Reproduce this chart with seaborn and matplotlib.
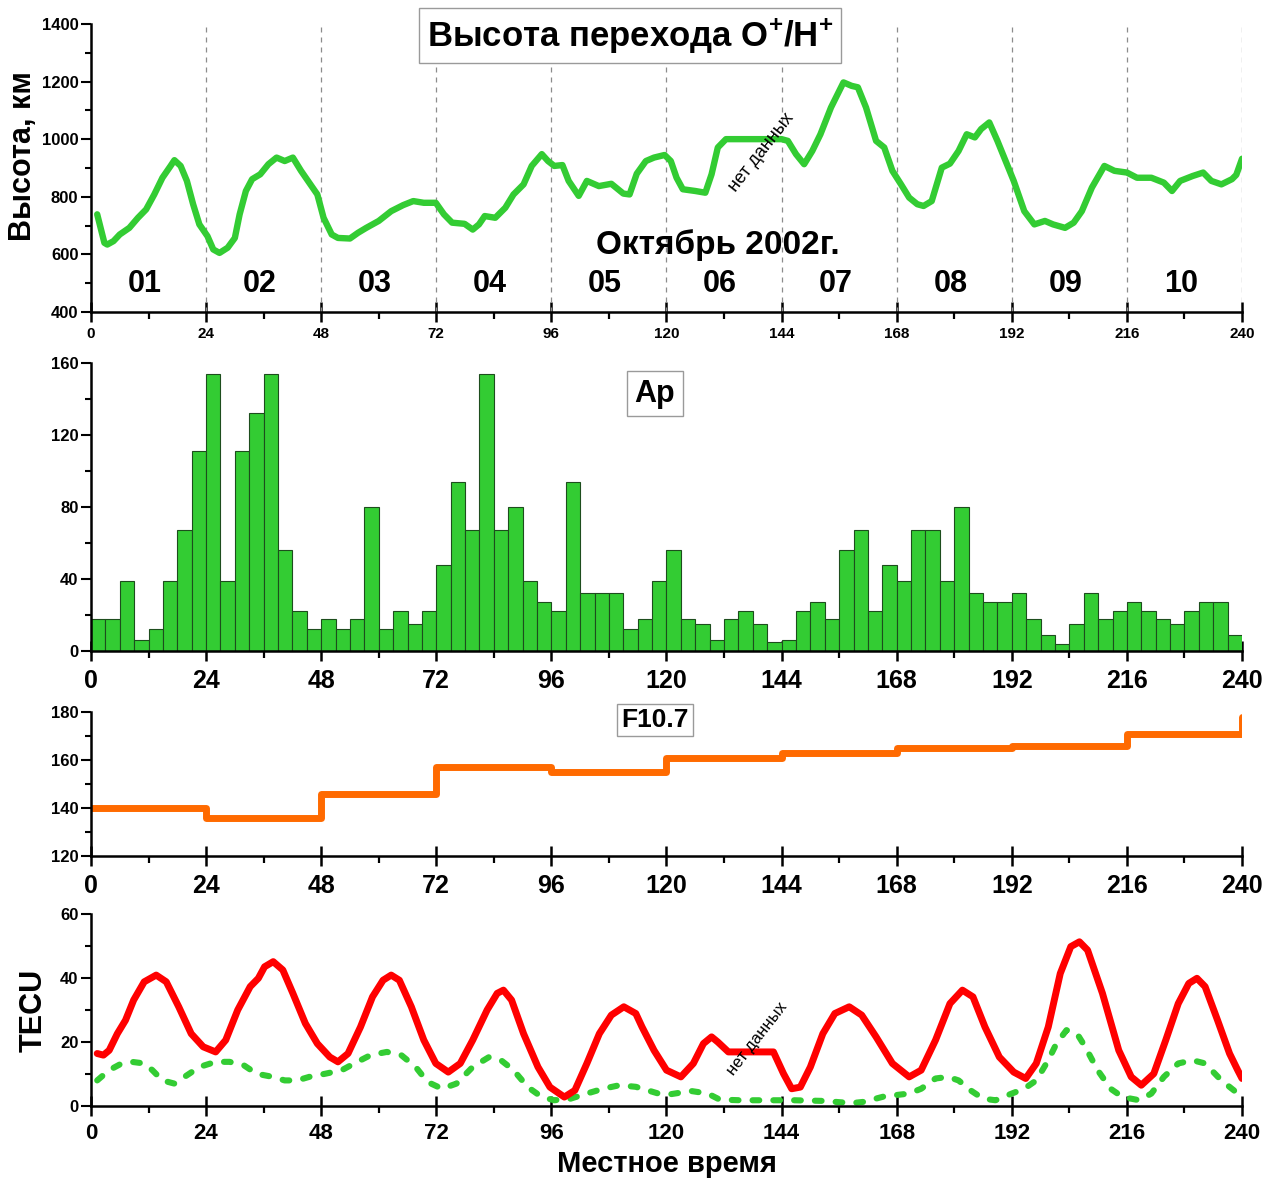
import numpy as np
import pandas as pd
import matplotlib
matplotlib.use("Agg")
import matplotlib.pyplot as plt
import seaborn as sns
from matplotlib.ticker import MultipleLocator

# ---------------- data ----------------
# O+/H+ transition height (km) vs local time (hours from 1 Oct 2002)
alt_hours = [1.3, 2.8, 3.4, 4.7, 6, 8, 9.8, 11.5, 13.2, 14.9, 16.6, 17.4, 18.7, 20, 21.3, 22.6,
             24.3, 25.5, 26.8, 28.5, 30, 31, 32.3, 33.6, 35.3, 37, 38.7, 40.4, 42.1, 43.8, 45.5, 47.2,
             48.5, 50.2, 51.5, 54, 55.7, 57.4, 60, 62.6, 65.1, 67.2, 69.4, 71.9,
             73.6, 75.3, 77.9, 79.6, 80.9, 82.1, 84.3, 86.4, 88.1, 90.2, 91.9, 94, 95.3,
             96.6, 98.3, 99.6, 101.7, 103.4, 105.9, 108.5, 111, 112.3, 113.8, 115.7, 117.4, 119.6,
             120.9, 122.1, 123.4, 126, 128.1, 129.4, 130.7, 132.4, 144,
             145.3, 147, 148.7, 150.4, 152.1, 154.3, 156.9, 158.6, 159.9, 161.6, 163.7, 165.4, 167.1,
             168.9, 170.6, 172.3, 173.6, 175.3, 177.4, 179.1, 180.9, 182.6, 184.3, 185.6, 187.3, 189, 190.7,
             192.4, 194.6, 196.7, 198.9, 200.6, 203.1, 204.9, 206.6, 208.7, 211.3, 213.4,
             216, 218.1, 221.1, 223.7, 225.4, 227.1, 229.7, 231.9, 233.6, 235.7, 237.9, 238.8, 240]
alt_km = [739, 640, 634, 646, 669, 692, 727, 756, 808, 866, 907, 927, 907, 855, 774, 704,
          663, 617, 605, 623, 657, 739, 820, 861, 878, 913, 936, 924, 936, 890, 849, 808,
          727, 669, 657, 655, 675, 692, 716, 750, 771, 785, 779, 779,
          739, 710, 706, 686, 704, 733, 727, 762, 808, 843, 907, 948, 924,
          907, 910, 855, 803, 855, 837, 845, 811, 808, 880, 924, 936, 945,
          924, 866, 826, 820, 814, 878, 971, 1000, 1000,
          994, 948, 913, 959, 1017, 1110, 1197, 1185, 1180, 1110, 994, 971, 890,
          843, 797, 774, 768, 785, 901, 915, 959, 1017, 1006, 1035, 1058, 994, 924,
          855, 750, 704, 716, 704, 692, 710, 750, 832, 907, 890,
          884, 866, 866, 849, 820, 855, 872, 884, 855, 843, 861, 876, 932]

# Ap index, 3-hour values
ap_hours = list(range(0, 240, 3))
ap_values = [18, 18, 39, 6, 12, 39, 67, 111, 154, 39, 111, 132, 154, 56, 22, 12,
             18, 12, 18, 80, 12, 22, 15, 22, 48, 94, 67, 154, 67, 80, 39, 27,
             22, 94, 32, 32, 32, 12, 18, 39, 56, 18, 15, 6, 18, 22, 15, 5,
             6, 22, 27, 18, 56, 67, 22, 48, 39, 67, 67, 39, 80, 32, 27, 27,
             32, 18, 9, 4, 15, 32, 18, 22, 27, 22, 18, 15, 22, 27, 27, 9]

# F10.7 daily values (step)
f107_hours = [0, 24, 48, 72, 96, 120, 144, 168, 192, 216, 240]
f107_values = [140, 136, 146, 157, 155, 161, 163, 165, 166, 171, 178]

# TEC (red solid)
tec_hours = [1.3, 2.6, 3.8, 5.5, 7.2, 8.9, 11.1, 13.6, 15.7, 18.3, 20.9, 23.4, 26, 28.1, 30.6, 33.2,
             34.9, 36.2, 38, 40, 42.1, 44.7, 47.2, 49.8, 51.5, 53.6, 56.2, 58.7, 60.9, 62.6, 64.3, 66.8,
             69.4, 71.9, 74.5, 77, 79.6, 82.6, 84.7, 86, 87.7, 90.2, 93.2, 95.7, 98.7, 100.9, 103.4,
             106, 108.5, 111.1, 113.6, 114.9, 117.4, 120, 123, 125.6, 127.7, 129.4, 130.7, 132.9, 142.3,
             144.4, 146.1, 147.9, 150, 152.6, 155.1, 158.1, 160.7, 163.7, 167.1, 170.6, 173.1, 176.1,
             179.1, 181.7, 183.9, 186.4, 189.4, 192.4, 194.9, 197.1, 199.6, 202.1, 204.3, 206.1, 207.8,
             210.9, 214.3, 216.9, 219, 221.6, 224.1, 226.7, 228.9, 230.6, 232.3, 234.9, 237.4, 239.1, 240]
tec_values = [16.4, 15.9, 17.4, 22.6, 26.8, 33.1, 38.8, 40.9, 38.8, 31, 22.6, 18.5, 16.9, 20.6, 30, 37.3,
              39.9, 43.5, 45.1, 42.5, 35.2, 25.8, 19.5, 15.3, 13.8, 16.4, 24.7, 34.1, 39.3, 40.9, 39.3, 31,
              20.6, 13.3, 10.6, 13.3, 20.6, 30, 35.2, 36.2, 33.1, 22.6, 12.2, 5.9, 2.8, 4.9, 13.3,
              22.6, 28.4, 31, 28.9, 24.7, 17.4, 11.2, 9.1, 13.3, 19.5, 21.6, 20, 16.9, 16.9,
              10.1, 5.4, 5.9, 12.2, 22.6, 28.9, 31, 28.4, 21.6, 13.3, 9.1, 11.2, 20.6,
              32, 36.2, 34.1, 24.7, 15.3, 10.6, 8.6, 13.3, 24.7, 41.4, 49.8, 51.3, 48.7,
              35.2, 17.4, 9.1, 6.5, 10.1, 20.6, 32, 38.3, 39.9, 37.3, 26.8, 16.4, 11.2, 8.6]

# TEC (green dashed)
tec2_hours = [1.3, 3.8, 6.4, 8.5, 11.1, 12.8, 14.9, 17.4, 20, 22.6, 26, 28.9, 31.9, 34.5, 37.9, 40.4,
              43, 45.5, 48.9, 52.3, 54.9, 58.3, 61.7, 64.7, 67.7, 70.2, 73.2, 76.2, 79.6, 83, 85.5, 88.1,
              91.1, 94, 96.6, 100, 103.4, 106.8, 110.2, 113.6, 118.3, 120.9, 125.1, 128.6, 131.1, 135.4,
              141.4, 146.6, 152.6, 158.6, 161.1, 165.4, 170.6, 173.1, 176.1, 178.7, 180.9, 183.4, 186,
              188.6, 192, 194.6, 197.1, 199.6, 201.3, 203.4, 205.6, 207.3, 209.9, 212.6, 215.1, 218.6,
              221.1, 223.7, 226.7, 229.7, 232.3, 235.7, 238.3, 240]
tec2_values = [8, 11.2, 13.3, 13.8, 13.3, 11.2, 8, 7, 9.6, 12.2, 13.8, 13.8, 12.7, 10.1, 9.1, 8,
               8, 9.1, 10.1, 11.2, 13.3, 15.9, 16.9, 15.9, 12.2, 7.5, 5.4, 7, 12.2, 15.3, 14.3, 11.2,
               5.9, 2.8, 1.8, 2.3, 3.9, 5.4, 6.5, 6, 3.9, 3.7, 4.7, 3.9, 2, 1.8,
               1.8, 1.8, 1.6, 0.9, 1.3, 3, 3.9, 5.4, 8.6, 9.1, 8, 4.9, 2.3,
               1.8, 3.9, 5.4, 8, 14.3, 19.5, 23.7, 22.6, 18.5, 11.2, 5.4, 2.8, 1.8,
               3.9, 9.1, 13.3, 14.3, 13.3, 8, 4.9, 2.3]

x_ticks = [0, 24, 48, 72, 96, 120, 144, 168, 192, 216, 240]
day_labels = ["01", "02", "03", "04", "05", "06", "07", "08", "09", "10"]

ap_df = pd.DataFrame({"hour": [h + 1.5 for h in ap_hours], "ap": ap_values})

# ---------------- style ----------------
sns.set_style("ticks")
plt.rcParams["font.family"] = ["Liberation Sans", "DejaVu Sans"]
plt.rcParams["font.weight"] = "bold"
plt.rcParams["text.color"] = "black"
plt.rcParams["axes.labelcolor"] = "black"
plt.rcParams["xtick.color"] = "black"
plt.rcParams["ytick.color"] = "black"
plt.rcParams["mathtext.fontset"] = "custom"
plt.rcParams["mathtext.bf"] = "Liberation Sans:bold"
plt.rcParams["mathtext.rm"] = "Liberation Sans:bold"
plt.rcParams["mathtext.default"] = "bf"

GREEN = "#33CC33"
ORANGE = "#FF6A00"
RED = "#FF0000"

fig = plt.figure(figsize=(12.74, 11.79), dpi=100)
L, W = 0.0714, 0.9035
ax1 = fig.add_axes([L, 0.7354, W, 0.2443])
ax2 = fig.add_axes([L, 0.4478, W, 0.2443])
ax3 = fig.add_axes([L, 0.2740, W, 0.1221])
ax4 = fig.add_axes([L, 0.0619, W, 0.1629])


def style(ax, ylo, yhi, ystep, yminor, xsize, xpad):
    ax.set_xlim(0, 240)
    ax.set_ylim(ylo, yhi)
    for s in ["top", "right"]:
        ax.spines[s].set_visible(False)
    for s in ["left", "bottom"]:
        ax.spines[s].set_linewidth(1.8)
        ax.spines[s].set_color("black")
    ax.set_xticks(x_ticks)
    ax.set_xticklabels([str(t) for t in x_ticks], fontsize=xsize, fontweight="bold")
    yt = list(range(ylo, yhi + 1, ystep))
    ax.set_yticks(yt)
    ax.set_yticklabels([str(t) for t in yt], fontsize=12, fontweight="bold")
    ax.xaxis.set_minor_locator(MultipleLocator(12))
    ax.yaxis.set_minor_locator(MultipleLocator(yminor))
    ax.tick_params(axis="x", which="major", direction="inout", length=14, width=1.8, pad=xpad, colors="black")
    ax.tick_params(axis="x", which="minor", direction="out", length=5, width=1.6, colors="black")
    ax.tick_params(axis="y", which="major", direction="out", length=7, width=1.5, pad=2, colors="black")
    ax.tick_params(axis="y", which="minor", direction="out", length=4, width=1.5, colors="black")
    ax.set_xlabel("")
    ax.set_ylabel("")
    ax.grid(False)


# ---- panel 1: transition height ----
for t in x_ticks[1:]:
    ax1.axvline(t, color="#8c8c8c", lw=0.9, ls=(0, (4, 4)), zorder=1)
sns.lineplot(x=alt_hours, y=alt_km, ax=ax1, color=GREEN, lw=4.6, sort=False, zorder=3,
             solid_joinstyle="round", solid_capstyle="round")
style(ax1, 400, 1400, 200, 100, 11, 4)
ax1.set_ylabel("Высота, км", fontsize=22, fontweight="bold")
ax1.yaxis.set_label_coords(-0.046, 0.54)
ax1.text(112.4, 1360, r"Высота перехода O$^{+}$/H$^{+}$", fontsize=25, fontweight="bold",
         ha="center", va="center",
         bbox=dict(boxstyle="square,pad=0.22", facecolor="white", edgecolor="#9a9a9a", lw=1))
ax1.text(130.7, 631, "Октябрь 2002г.", fontsize=24, fontweight="bold", ha="center", va="center")
for i, lab in enumerate(day_labels):
    ax1.text(24 * i + 11.2, 497, lab, fontsize=22, fontweight="bold", ha="center", va="center")
ax1.text(139.8, 955, "нет данных", fontsize=13, ha="center", va="center", rotation=52,
         fontweight="normal")

# ---- panel 2: Ap ----
sns.histplot(data=ap_df, x="hour", weights="ap", binwidth=3, binrange=(0, 240), ax=ax2,
             color=GREEN, edgecolor="#1d4d1d", linewidth=0.8, alpha=1.0, zorder=2)
style(ax2, 0, 160, 40, 20, 18, 6)
ax2.text(117.6, 143, "Ap", fontsize=22, fontweight="bold", ha="center", va="center",
         bbox=dict(boxstyle="square,pad=0.25", facecolor="white", edgecolor="#9a9a9a", lw=1))

# ---- panel 3: F10.7 ----
sns.lineplot(x=f107_hours, y=f107_values, ax=ax3, color=ORANGE, lw=5, drawstyle="steps-post",
             sort=False)
style(ax3, 120, 180, 20, 10, 18, 6)
ax3.text(117.6, 176.5, "F10.7", fontsize=19, fontweight="bold", ha="center", va="center",
         bbox=dict(boxstyle="square,pad=0.15", facecolor="white", edgecolor="#9a9a9a", lw=1))

# ---- panel 4: TEC ----
sns.lineplot(x=tec2_hours, y=tec2_values, ax=ax4, color=GREEN, lw=4.4, sort=False,
             linestyle=(0, (1.1, 2.3)), dash_capstyle="round", zorder=2)
sns.lineplot(x=tec_hours, y=tec_values, ax=ax4, color=RED, lw=5, sort=False, zorder=3,
             solid_joinstyle="round", solid_capstyle="round")
style(ax4, 0, 60, 20, 10, 16, 5)
ax4.set_ylabel("TECU", fontsize=22, fontweight="bold")
ax4.yaxis.set_label_coords(-0.037, 0.5)
ax4.set_xlabel("Местное время", fontsize=21, fontweight="bold")
ax4.xaxis.set_label_coords(0.5, -0.228)
ax4.text(139, 21, "нет данных", fontsize=12, ha="center", va="center", rotation=52,
         fontweight="normal")

fig.savefig("out.png", dpi=100)
